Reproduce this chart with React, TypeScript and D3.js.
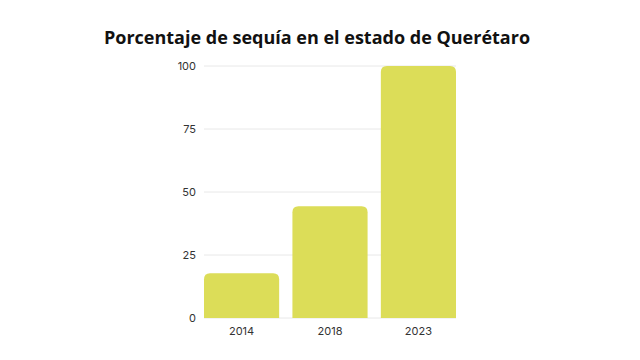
import React, { useEffect, useRef } from 'react';
import * as d3 from 'd3';

const years = ['2014', '2018', '2023'];
const sequia = [17.8, 44.3, 100];
const yTicks = [0, 25, 50, 75, 100];

const W = 640;
const H = 360;

function topRounded(x: number, y: number, w: number, h: number, r: number) {
  const rr = Math.min(r, w / 2, h);
  return `M${x},${y + h}V${y + rr}Q${x},${y} ${x + rr},${y}H${x + w - rr}Q${x + w},${y} ${x + w},${y + rr}V${y + h}Z`;
}

export default function App() {
  const ref = useRef<SVGSVGElement>(null);

  useEffect(() => {
    if (!ref.current) return;
    const svg = d3.select(ref.current);
    svg.selectAll('*').remove();

    svg.append('rect').attr('width', W).attr('height', H).attr('fill', '#ffffff');

    const x = d3.scaleBand<string>().domain(years).range([204, 456]).paddingInner(0.15).paddingOuter(0);
    const y = d3.scaleLinear().domain([0, 100]).range([318, 66]);

    // gridlines
    svg.append('g')
      .selectAll('line')
      .data(yTicks)
      .enter()
      .append('line')
      .attr('x1', 204)
      .attr('x2', 456)
      .attr('y1', d => y(d))
      .attr('y2', d => y(d))
      .attr('stroke', '#e8e8e8')
      .attr('stroke-width', 1);

    // y labels
    svg.append('g')
      .selectAll('text')
      .data(yTicks)
      .enter()
      .append('text')
      .attr('x', 196)
      .attr('y', d => y(d))
      .attr('dy', '0.35em')
      .attr('text-anchor', 'end')
      .style('font-family', 'Inter, "Open Sans", sans-serif')
      .style('font-size', '11px')
      .attr('fill', '#333')
      .text(d => d);

    // bars
    svg.append('g')
      .selectAll('path')
      .data(sequia)
      .enter()
      .append('path')
      .attr('d', (d, i) => topRounded(x(years[i])!, y(d), x.bandwidth(), y(0) - y(d), 6))
      .attr('fill', '#dcdd58');

    // x labels
    svg.append('g')
      .selectAll('text')
      .data(years)
      .enter()
      .append('text')
      .attr('x', d => x(d)! + x.bandwidth() / 2)
      .attr('y', 331)
      .attr('dy', '0.35em')
      .attr('text-anchor', 'middle')
      .style('font-family', 'Inter, "Open Sans", sans-serif')
      .style('font-size', '11px')
      .attr('fill', '#333')
      .text(d => d);

    svg.append('text')
      .attr('x', 317)
      .attr('y', 44)
      .attr('text-anchor', 'middle')
      .style('font-family', '"Open Sans", sans-serif')
      .style('font-weight', '700')
      .style('font-size', '18px')
      .attr('fill', '#111')
      .text('Porcentaje de sequía en el estado de Querétaro');
  }, []);

  return (
    <div style={{ position: 'fixed', left: 0, top: 0 }}>
      <svg ref={ref} width={W} height={H} />
    </div>
  );
}
